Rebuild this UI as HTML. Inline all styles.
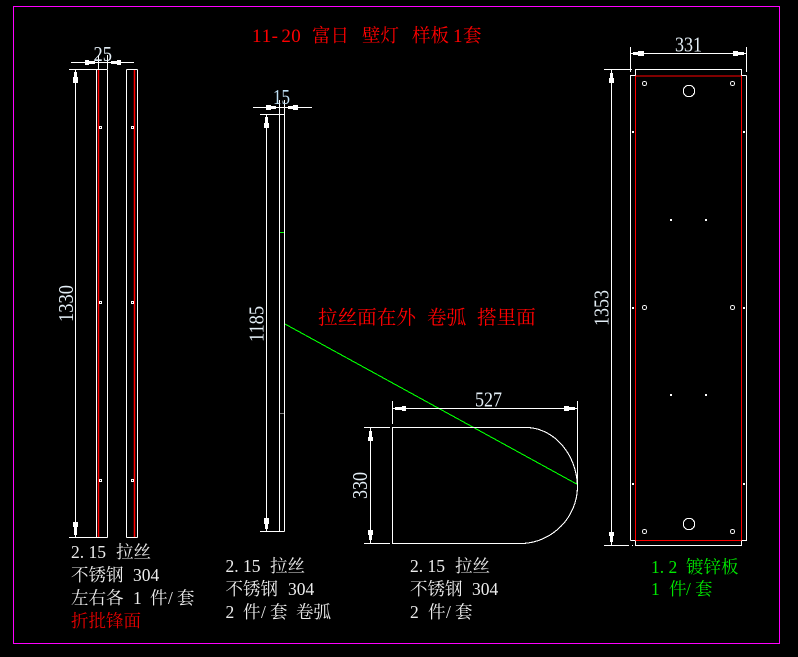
<!DOCTYPE html>
<html><head><meta charset="utf-8">
<style>
html,body{margin:0;padding:0;background:#000;width:798px;height:657px;overflow:hidden}
svg{display:block}
.l{stroke:#fff;stroke-width:1;fill:none;shape-rendering:crispEdges}
.c{stroke:#fff;stroke-width:1.1;fill:none;shape-rendering:crispEdges}
.r{stroke:#f00;stroke-width:1;fill:none;shape-rendering:crispEdges}
.rw{stroke:#f00;stroke-width:1.5;fill:none}
.g{stroke:#0f0;stroke-width:1;fill:none;shape-rendering:crispEdges}
.a{fill:#fff;shape-rendering:crispEdges}
.d{font-family:"Liberation Serif",serif;font-size:21.5px;fill:#e4eff7}
.t{font-family:"Noto Serif CJK SC",serif;font-size:17.5px;fill:#ececec}
.m{font-family:"Liberation Serif",serif;font-size:17.5px;fill:#ececec}
.tt{font-family:"Liberation Serif",serif;font-size:19px;fill:#f00}
.red{fill:#e80000}.grn{fill:#00e800}
</style></head>
<body>
<svg width="798" height="657" viewBox="0 0 798 657" xmlns="http://www.w3.org/2000/svg">
<rect width="798" height="657" fill="#000"/>
<rect x="13.5" y="6.5" width="766" height="637" fill="none" stroke="#f0f" stroke-width="1" shape-rendering="crispEdges"/>

<!-- title -->
<text class="tt" x="252 261.8 271.6 281.4 291.2" y="42">11-20</text>
<g font-family="Noto Serif CJK SC,serif" font-size="18.5" fill="#f00">
<text x="312" y="42">富日</text><text x="362" y="42">壁灯</text><text x="412" y="42">样板</text><text x="463" y="42">套</text></g>
<text class="tt" x="453" y="42">1</text>

<!-- left panels -->
<path class="l" d="M96.5 69.5V537.5M107.5 69.5V537.5M126.5 69.5V537.5M137.5 69.5V537.5M126.5 69.5H137.5M126.5 537.5H137.5M69 69.5H107.5M69 537.5H107.5"/>
<path class="rw" d="M98.5 70V537M134.5 70V537"/>
<path class="l" d="M98.5 55V69M107.5 55V69M71 62.5H134M75.5 70V537"/>
<path class="a" d="M85 60h4v1h6v3h-6v1h-4zM121 60h-4v1h-6v3h6v1h4zM74 72h3v5h1v6h-5v-6h1zM74 535h3v-8h1v-5h-5v5h1z"/>
<g class="l"><rect x="99.5" y="126.5" width="2" height="2"/><rect x="131.5" y="126.5" width="2" height="2"/><rect x="99.5" y="301.5" width="2" height="2"/><rect x="131.5" y="301.5" width="2" height="2"/><rect x="99.5" y="479.5" width="2" height="2"/><rect x="131.5" y="479.5" width="2" height="2"/></g>
<text class="d" x="93.5" y="61" textLength="18.5" lengthAdjust="spacingAndGlyphs">25</text>
<text class="d" transform="translate(73 322) rotate(-90)" textLength="37" lengthAdjust="spacingAndGlyphs">1330</text>

<!-- middle panel -->
<path class="l" d="M279.5 100V531.5M284.5 100V531.5M260 114.5H284.5M260 531.5H284.5M253 107.5H312M266.5 115V531"/>
<path class="a" d="M266 105h5v1h5v3h-5v1h-5zM298 105h-5v1h-5v3h5v1h5zM265 117h3v6h1v5h-5v-5h1zM265 529h3v-5h1v-6h-5v6h1z"/>
<path class="g" d="M280 232.5H284"/>
<path class="l" d="M280 413.5H284" stroke-opacity=".5"/>
<text class="d" x="273" y="104" textLength="17" lengthAdjust="spacingAndGlyphs" style="fill:#bfe0f5">15</text>
<text class="d" transform="translate(263.5 342) rotate(-90)" textLength="36" lengthAdjust="spacingAndGlyphs">1185</text>

<!-- green connector -->
<line x1="285" y1="324" x2="577.5" y2="484.5" stroke="#0f0" stroke-width="1.1" shape-rendering="crispEdges"/>

<text x="318" y="324" font-family="Noto Serif CJK SC,serif" font-size="19.6" fill="#f00">拉丝面在外</text>
<text x="427" y="324" font-family="Noto Serif CJK SC,serif" font-size="19.6" fill="#f00">卷弧</text>
<text x="477" y="324" font-family="Noto Serif CJK SC,serif" font-size="19.6" fill="#f00">搭里面</text>

<!-- bottom shape -->
<path class="c" d="M392.5 427.5H528C555 429 577 455 577.5 487C577 518 552 542 523 543.5H392.5Z"/>
<path class="l" d="M392.5 401V424M577.5 401V485M392.5 408.5H577.5M364 427.5H390M364 543.5H390M370.5 428V543"/>
<path class="a" d="M406 406h-4v1h-7v3h7v1h4zM564 406h5v1h6v3h-6v1h-5zM369 431h3v6h1v4h-5v-4h1zM369 540h3v-5h1v-5h-5v5h1z"/>
<text class="d" x="475" y="406.5" textLength="27" lengthAdjust="spacingAndGlyphs">527</text>
<text class="d" transform="translate(367 499) rotate(-90)" textLength="27" lengthAdjust="spacingAndGlyphs">330</text>

<!-- right panel -->
<path class="l" d="M630.5 540.5V75.5H635.5M746.5 75.5V540.5H741.5M741.5 75.5H746.5M630.5 540.5H635.5M635.5 75.5V69.5H741.5V75.5M635.5 540.5V545.5H741.5V540.5"/>
<path class="r" d="M635.5 76H741.5M635.5 76V540M741.5 76V540M635.5 540.5H741.5"/>
<path class="l" d="M630.5 47V72M746.5 47V72M631 53.5H746M604 69.5H632M604 545.5H629M611.5 70V545M632 545.5H633"/>
<path class="a" d="M644 51h-6v1h-5v3h5v1h6zM733 51h5v1h6v3h-6v1h-5zM610 73h3v5h1v5h-5v-5h1zM610 542h3v-6h1v-4h-5v4h1z"/>
<g class="c">
<circle cx="689" cy="91" r="5.7"/><circle cx="689" cy="524" r="5.7"/>
<circle cx="644.5" cy="83.5" r="2"/><circle cx="732.5" cy="83.5" r="2"/>
<circle cx="644.5" cy="307.5" r="2"/><circle cx="732.5" cy="307.5" r="2"/>
<circle cx="644.5" cy="531.5" r="2"/><circle cx="732.5" cy="531.5" r="2"/>
</g>
<path class="a" d="M632 131h2v2h-2zM743 131h2v2h-2zM632 307h2v2h-2zM743 307h2v2h-2zM632 483h2v2h-2zM743 483h2v2h-2zM670 219h2v2h-2zM705 219h2v2h-2zM670 394h2v2h-2zM705 394h2v2h-2z"/>
<text class="d" x="675" y="51.5" textLength="27" lengthAdjust="spacingAndGlyphs">331</text>
<text class="d" transform="translate(608.5 326) rotate(-90)" textLength="36" lengthAdjust="spacingAndGlyphs">1353</text>

<!-- notes -->
<text class="m" x="71 79.8 88.5 97.3" y="558">2.15</text><text class="t" x="116" y="558">拉丝</text>
<text class="t" x="71" y="581">不锈钢</text><text class="m" x="133 141.8 150.5" y="581">304</text>
<text class="t" x="71" y="604">左右各</text><text class="m" x="133" y="604">1</text><text class="t" x="150" y="604">件</text><text class="m" x="168" y="604">/</text><text class="t" x="177" y="604">套</text>
<text class="t red" x="71" y="627">折批锋面</text>

<text class="m" x="225.5 234.3 243 251.8" y="572">2.15</text><text class="t" x="270" y="572">拉丝</text>
<text class="t" x="225.5" y="595">不锈钢</text><text class="m" x="288 296.8 305.5" y="595">304</text>
<text class="m" x="225.5" y="618">2</text><text class="t" x="243" y="618">件</text><text class="m" x="261" y="618">/</text><text class="t" x="270" y="618">套</text><text class="t" x="296" y="618">卷弧</text>

<text class="m" x="410 418.8 427.5 436.3" y="572">2.15</text><text class="t" x="455" y="572">拉丝</text>
<text class="t" x="410" y="595">不锈钢</text><text class="m" x="472 480.8 489.5" y="595">304</text>
<text class="m" x="410" y="618">2</text><text class="t" x="428" y="618">件</text><text class="m" x="446" y="618">/</text><text class="t" x="455" y="618">套</text>

<text class="m grn" x="651 659.8 668.5" y="573">1.2</text><text class="t grn" x="686" y="573">镀锌板</text>
<text class="m grn" x="651" y="595">1</text><text class="t grn" x="669" y="595">件</text><text class="m grn" x="686" y="595">/</text><text class="t grn" x="695" y="595">套</text>
</svg>
</body></html>
